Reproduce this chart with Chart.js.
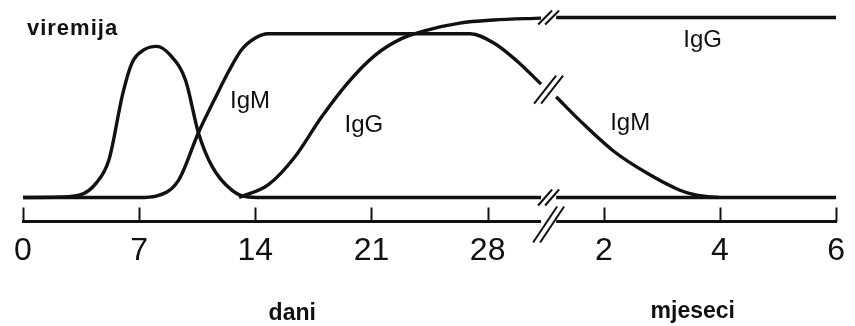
<!DOCTYPE html>
<html lang="hr">
<head>
    <meta charset="UTF-8">
    <title>Viremija, IgM i IgG</title>
    <script src="https://cdn.jsdelivr.net/npm/chart.js"></script>
    <style>
        html, body { margin: 0; padding: 0; background: #fff; }
    </style>
</head>
<body>
    <canvas id="graf" width="855" height="326"></canvas>

    <script>
        // os x ide po položajima 0..7: 0-28 dana, pa (nakon prekida) 2-6 mjeseci
        const tickLabels = ['0', '7', '14', '21', '28', '2', '4', '6'];
        const breakAt = 4.525; // prekid osi između 28 dana i 2 mjeseca

        // viremija (nastavlja se kao donja linija do kraja)
        const viremijaX = [0, 0.32, 0.49, 0.63, 0.74, 0.86, 0.94, 1.04, 1.15, 1.27, 1.40, 1.51, 1.63, 1.80, 1.94, 2.11, 4.46, breakAt, 4.59, 7];
        const viremijaY = [0, 0.3, 1.4, 8, 21, 58, 75, 82, 84, 79, 65, 36, 17, 4, 0.3, 0, 0, null, 0, 0];

        // IgM
        const igmX = [0, 1.00, 1.146, 1.34, 1.51, 1.66, 1.77, 1.88, 2.00, 2.11, 3.85, 4.05, 4.25, 4.46, breakAt, 4.59, 4.79, 5.08, 5.36, 5.65, 5.79, 5.99];
        const igmY = [0, 0, 0.8, 9.7, 36, 56, 70, 82, 88.6, 91, 91, 86, 76, 63, null, 56, 43, 26, 14, 4.2, 1.4, 0];

        // IgG
        const iggX = [1.86, 2.11, 2.34, 2.57, 2.80, 3.03, 3.25, 3.48, 3.76, 4.05, 4.46, breakAt, 4.59, 7];
        const iggY = [0, 7, 22.5, 44.7, 64, 79, 88, 93, 96.9, 98.6, 99.7, null, 100, 100];

        // natpisi na krivuljama
        const oznake = [
            { tekst: 'IgM', x: 1.955, y: 49.7 },
            { tekst: 'IgG', x: 2.934, y: 36.4 },
            { tekst: 'IgM', x: 5.227, y: 37.5 },
            { tekst: 'IgG', x: 5.851, y: 83.6 }
        ];

        const FONT = "'Liberation Sans', Arial, Helvetica, sans-serif";
        const CRNA = '#111';

        function tocke(xs, ys) {
            return xs.map((x, i) => ({ x: x, y: ys[i] }));
        }

        function crta(d) {
            return {
                data: d,
                borderColor: CRNA,
                borderWidth: 3.4,
                pointRadius: 0,
                fill: false,
                spanGaps: false,
                cubicInterpolationMode: 'monotone'
            };
        }

        // kvačice osi, znakovi prekida "//" i tekstovi
        const crtez = {
            id: 'crtez',
            afterDraw(chart) {
                const ctx = chart.ctx;
                const xs = chart.scales.x;
                const ys = chart.scales.y;
                const dno = chart.chartArea.bottom;

                ctx.save();
                ctx.strokeStyle = CRNA;
                ctx.fillStyle = CRNA;

                // kvačice prema gore
                ctx.lineWidth = 2;
                for (let i = 0; i < tickLabels.length; i++) {
                    const x = Math.round(xs.getPixelForValue(i)) + 0.5;
                    ctx.beginPath();
                    ctx.moveTo(x, dno);
                    ctx.lineTo(x, dno - 14);
                    ctx.stroke();
                }

                // rupa u osi
                const bx = xs.getPixelForValue(breakAt);
                ctx.fillStyle = '#fff';
                ctx.fillRect(xs.getPixelForValue(4.46), dno - 3, xs.getPixelForValue(4.59) - xs.getPixelForValue(4.46), 6);
                ctx.fillStyle = CRNA;

                function prekid(cx, cy, dx, dy) {
                    ctx.lineWidth = 2;
                    [-3.5, 3.5].forEach(o => {
                        ctx.beginPath();
                        ctx.moveTo(cx + o - dx, cy + dy);
                        ctx.lineTo(cx + o + dx, cy - dy);
                        ctx.stroke();
                    });
                }
                prekid(bx, ys.getPixelForValue(100), 7, 7);
                prekid(bx, ys.getPixelForValue(60), 11, 14);
                prekid(bx, ys.getPixelForValue(0), 7, 8);
                prekid(bx, dno + 3, 12, 18);

                // natpisi IgM / IgG
                ctx.font = '24px ' + FONT;
                ctx.textAlign = 'center';
                ctx.textBaseline = 'alphabetic';
                oznake.forEach(o => {
                    ctx.fillText(o.tekst, xs.getPixelForValue(o.x), ys.getPixelForValue(o.y));
                });

                // viremija
                ctx.font = 'bold 22px ' + FONT;
                ctx.textAlign = 'left';
                ctx.letterSpacing = '1px';
                ctx.fillText('viremija', xs.getPixelForValue(0.034), ys.getPixelForValue(90.3));
                ctx.letterSpacing = '0px';

                // dani / mjeseci
                ctx.font = 'bold 23px ' + FONT;
                ctx.textAlign = 'center';
                ctx.fillText('dani', xs.getPixelForValue(2.318), ys.getPixelForValue(-68));
                ctx.fillText('mjeseci', xs.getPixelForValue(5.766), ys.getPixelForValue(-66.9));

                ctx.restore();
            }
        };

        new Chart(document.getElementById('graf').getContext('2d'), {
            type: 'line',
            data: {
                datasets: [
                    crta(tocke(viremijaX, viremijaY)),
                    crta(tocke(igmX, igmY)),
                    crta(tocke(iggX, iggY))
                ]
            },
            options: {
                responsive: false,
                animation: false,
                devicePixelRatio: 1,
                layout: { padding: { left: 23, right: 14, top: 8, bottom: 0 } },
                plugins: {
                    legend: { display: false },
                    tooltip: { enabled: false }
                },
                scales: {
                    x: {
                        type: 'linear',
                        min: 0,
                        max: 7,
                        grid: { display: false, drawTicks: false },
                        border: { display: true, color: CRNA, width: 3 },
                        ticks: {
                            stepSize: 1,
                            autoSkip: false,
                            maxRotation: 0,
                            padding: 10,
                            color: CRNA,
                            font: { family: FONT, size: 32 },
                            callback: v => tickLabels[v]
                        },
                        afterFit: s => { s.height = 104.5; }
                    },
                    y: {
                        display: false,
                        min: -13.33,
                        max: 105.3
                    }
                }
            },
            plugins: [crtez]
        });
    </script>
</body>
</html>
